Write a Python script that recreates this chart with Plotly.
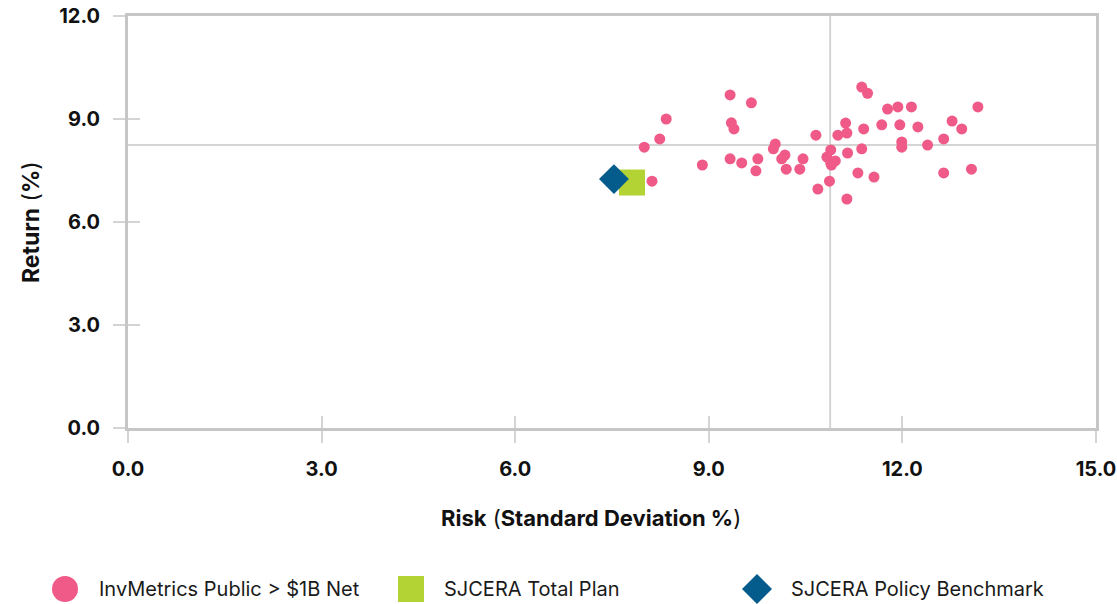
import plotly.graph_objects as go

# Peer universe: InvMetrics Public > $1B Net (risk %, return %)
peer_risk = [9.33, 9.66, 8.34, 9.35, 9.39, 8.24, 8.00, 10.66, 11.00, 11.12,
             11.14, 10.03, 10.00, 10.89, 11.15, 10.18, 10.13, 9.33, 9.51, 9.76,
             10.46, 10.83, 10.89, 10.96, 10.90, 8.90, 9.73, 10.20, 10.41, 8.12,
             10.87, 10.69, 11.14, 11.37, 11.46, 11.77, 11.93, 12.14, 13.17, 11.40,
             11.68, 11.96, 12.24, 12.77, 12.92, 12.64, 11.99, 11.99, 12.39, 11.37,
             11.31, 11.56, 12.64, 13.07]
peer_return = [9.70, 9.47, 9.00, 8.89, 8.71, 8.42, 8.18, 8.53, 8.53, 8.88,
               8.59, 8.27, 8.13, 8.10, 8.01, 7.95, 7.84, 7.84, 7.72, 7.84,
               7.84, 7.89, 7.71, 7.78, 7.66, 7.66, 7.49, 7.54, 7.54, 7.19,
               7.19, 6.96, 6.67, 9.93, 9.75, 9.29, 9.35, 9.35, 9.35, 8.71,
               8.83, 8.83, 8.77, 8.94, 8.71, 8.42, 8.33, 8.18, 8.24, 8.13,
               7.43, 7.31, 7.43, 7.54]

plan_risk = [7.81]
plan_return = [7.15]
bench_risk = [7.53]
bench_return = [7.25]

# Universe medians (cross-hair lines)
median_risk = 10.88
median_return = 8.24

x_ticks = [0, 3, 6, 9, 12, 15]
y_ticks = [0, 3, 6, 9, 12]

series_names = ["InvMetrics Public > $1B Net", "SJCERA Total Plan", "SJCERA Policy Benchmark"]

PINK = "#f05a89"
GREEN = "#b3d334"
BLUE = "#035c8c"
AXIS = "#c6c6c6"
REF = "#d4d4d4"
FONT = "Inter"
W, H = 1117, 604
L, R, T, B = 128, 21, 16, 176
PW, PH = W - L - R, H - T - B


def px_x(v):
    return (v - L) / PW


def px_y(v):
    return (H - B - v) / PH


fig = go.Figure()
fig.add_trace(go.Scatter(x=peer_risk, y=peer_return, mode="markers", name=series_names[0],
                         marker=dict(symbol="circle", size=11, color=PINK)))
fig.add_trace(go.Scatter(x=plan_risk, y=plan_return, mode="markers", name=series_names[1],
                         marker=dict(symbol="square", size=26, color=GREEN)))
fig.add_trace(go.Scatter(x=bench_risk, y=bench_return, mode="markers", name=series_names[2],
                         marker=dict(symbol="diamond", size=23, color=BLUE)))

tick_font = dict(family=FONT, size=20, color="#111111", weight="bold")
axis_common = dict(showline=True, linecolor=AXIS, linewidth=3, mirror=True,
                   showgrid=False, zeroline=False, ticks="outside", ticklen=12,
                   tickcolor=REF, tickwidth=2, tickfont=tick_font, tickformat=".1f",
                   fixedrange=True, automargin=False, ticklabeloverflow="allow")

fig.update_layout(
    width=W, height=H, autosize=False,
    margin=dict(l=L, r=R, t=T, b=B, pad=0),
    paper_bgcolor="white", plot_bgcolor="white",
    showlegend=False,
    xaxis=dict(range=[0, 15], tickvals=x_ticks, ticklabelstandoff=9, **axis_common),
    yaxis=dict(range=[0, 12], tickvals=y_ticks, ticklabelstandoff=9, **axis_common),
    # overlay axes carry the inner half of each tick mark
    xaxis2=dict(overlaying="x", matches="x", range=[0, 15], tickvals=x_ticks[1:-1],
                ticks="inside", ticklen=12, tickcolor=REF, tickwidth=2, automargin=False,
                showticklabels=False, showgrid=False, zeroline=False, showline=False),
    yaxis2=dict(overlaying="y", matches="y", range=[0, 12], tickvals=y_ticks[1:-1],
                ticks="inside", ticklen=12, tickcolor=REF, tickwidth=2, automargin=False,
                showticklabels=False, showgrid=False, zeroline=False, showline=False),
)
# invisible trace so the overlay axes are drawn
fig.add_trace(go.Scatter(x=[None], y=[None], xaxis="x2", yaxis="y2", showlegend=False,
                         hoverinfo="skip"))

# median cross-hair
fig.add_shape(type="line", xref="x", yref="paper", x0=median_risk, x1=median_risk, y0=0, y1=1,
              line=dict(color=REF, width=2), layer="below")
fig.add_shape(type="line", xref="paper", yref="y", x0=0, x1=1, y0=median_return, y1=median_return,
              line=dict(color=REF, width=2), layer="below")

# axis titles
fig.add_annotation(x=px_x(591), y=px_y(518), xref="paper", yref="paper", showarrow=False,
                   xanchor="center", yanchor="middle",
                   text="<b>Risk</b> (<b>Standard Deviation %</b>)",
                   font=dict(family=FONT, size=22, color="#111111"))
fig.add_annotation(x=px_x(31), y=px_y(222), xref="paper", yref="paper", showarrow=False,
                   xanchor="center", yanchor="middle",
                   textangle=-90, text="<b>Return</b> (<b>%</b>)",
                   font=dict(family=FONT, size=23, color="#111111"))

# legend row
leg_y = px_y(589)
fig.add_shape(type="circle", xref="paper", yref="paper", xsizemode="pixel", ysizemode="pixel",
              xanchor=px_x(65), yanchor=leg_y, x0=-13, x1=13, y0=-13, y1=13,
              fillcolor=PINK, line=dict(width=0))
fig.add_shape(type="rect", xref="paper", yref="paper", xsizemode="pixel", ysizemode="pixel",
              xanchor=px_x(411), yanchor=leg_y, x0=-13, x1=13, y0=-13, y1=13,
              fillcolor=GREEN, line=dict(width=0))
fig.add_shape(type="path", xref="paper", yref="paper", xsizemode="pixel", ysizemode="pixel",
              xanchor=px_x(757), yanchor=leg_y, path="M 0 15 L 15 0 L 0 -15 L -15 0 Z",
              fillcolor=BLUE, line=dict(width=0))
for name, x0 in zip(series_names, [97, 442, 789]):
    fig.add_annotation(x=px_x(x0), y=leg_y, xref="paper", yref="paper", xanchor="left",
                       yanchor="middle", showarrow=False, text=name,
                       font=dict(family=FONT, size=20, color="#1a1a1a"))

fig.write_html("out.html")
